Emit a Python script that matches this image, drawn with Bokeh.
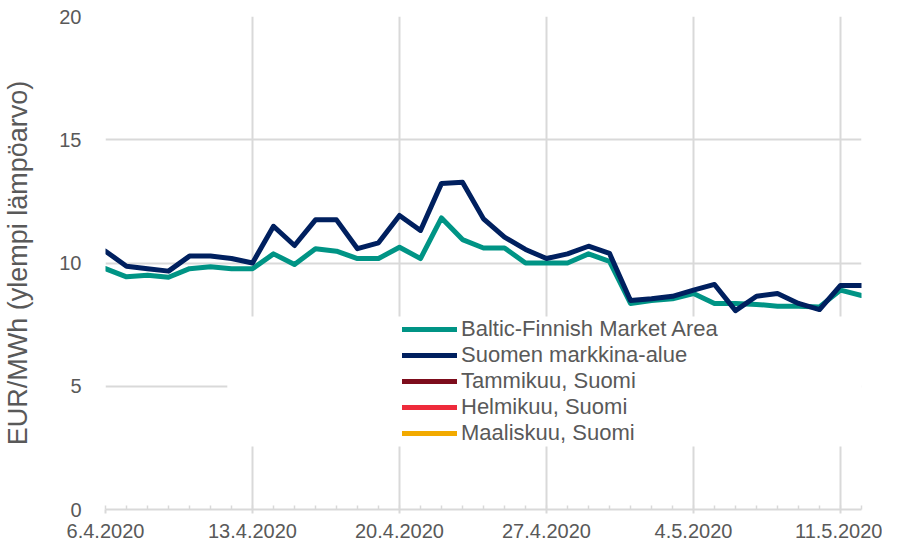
import pandas as pd
from bokeh.plotting import figure
from bokeh.models import Range1d, FixedTicker, Legend, LegendItem, BoxAnnotation
from bokeh.embed import file_html
from bokeh.resources import INLINE

# ---- data ----
dates = pd.date_range("2020-04-06", "2020-05-12", freq="D")
baltic = [9.77, 9.44, 9.50, 9.42, 9.77, 9.85, 9.77, 9.77, 10.37, 9.94, 10.58, 10.48,
          10.18, 10.18, 10.64, 10.18, 11.83, 10.95, 10.61, 10.61, 10.00, 10.00, 10.00,
          10.37, 10.07, 8.36, 8.48, 8.55, 8.76, 8.36, 8.36, 8.32, 8.25, 8.25, 8.22, 8.90, 8.68]
suomi = [10.48, 9.87, 9.77, 9.67, 10.28, 10.28, 10.18, 10.00, 11.49, 10.71, 11.75, 11.75,
         10.58, 10.82, 11.93, 11.32, 13.23, 13.28, 11.79, 11.05, 10.55, 10.18, 10.37,
         10.68, 10.39, 8.48, 8.55, 8.65, 8.90, 9.13, 8.07, 8.65, 8.76, 8.36, 8.11, 9.09, 9.09]
# no values inside the shown period for these series
tammikuu = [None]
helmikuu = [None]
maaliskuu = [None]
series_names = ["Baltic-Finnish Market Area", "Suomen markkina-alue",
                "Tammikuu, Suomi", "Helmikuu, Suomi", "Maaliskuu, Suomi"]
series_colors = ["#009485", "#00205F", "#7D0C1C", "#EE2B3B", "#F2AA00"]
tick_dates = ["2020-04-06", "2020-04-13", "2020-04-20", "2020-04-27", "2020-05-04", "2020-05-11"]
tick_labels = ["6.4.2020", "13.4.2020", "20.4.2020", "27.4.2020", "4.5.2020", "11.5.2020"]
y_ticks = [0, 5, 10, 15, 20]

FONT = "Liberation Sans"
GREY = "#595959"
GRID = "#d9d9d9"

def ms(d):
    return pd.Timestamp(d).value / 1e6

x_ms = [ms(d) for d in dates]
major_ms = [ms(d) for d in tick_dates]

p = figure(width=882, height=546, x_axis_type="datetime",
           output_backend="svg", toolbar_location=None,
           x_range=Range1d(x_ms[0], x_ms[-1]), y_range=Range1d(0, 20),
           min_border_left=97, min_border_right=21, min_border_top=16, min_border_bottom=37)
p.outline_line_color = None
p.background_fill_color = "white"
p.border_fill_color = "white"

# axes
xa = p.xaxis[0]
xa.ticker = FixedTicker(ticks=major_ms, minor_ticks=x_ms)
xa.major_label_overrides = {v: lab for v, lab in zip(major_ms, tick_labels)}
xa.axis_line_color = GRID
xa.axis_line_width = 2
xa.major_tick_line_color = GRID
xa.major_tick_line_width = 2
xa.major_tick_out = 4
xa.major_tick_in = 0
xa.minor_tick_line_color = GRID
xa.minor_tick_line_width = 1.5
xa.minor_tick_in = 4
xa.minor_tick_out = 0
xa.major_label_standoff = 10
xa.major_label_text_font = FONT
xa.major_label_text_font_size = "20px"
xa.major_label_text_color = GREY

ya = p.yaxis[0]
ya.ticker = FixedTicker(ticks=y_ticks)
ya.axis_line_color = None
ya.major_tick_line_color = None
ya.minor_tick_line_color = None
ya.major_label_standoff = 18
ya.major_label_text_font = FONT
ya.major_label_text_font_size = "20px"
ya.major_label_text_color = GREY
ya.axis_label = "EUR/MWh (ylempi lämpöarvo)"
ya.axis_label_text_font = FONT
ya.axis_label_text_font_size = "27px"
ya.axis_label_text_font_style = "normal"
ya.axis_label_text_color = GREY
ya.axis_label_standoff = 23

p.xgrid.ticker = FixedTicker(ticks=major_ms)
p.xgrid.grid_line_color = GRID
p.xgrid.grid_line_width = 2
p.ygrid.ticker = FixedTicker(ticks=y_ticks)
p.ygrid.grid_line_color = GRID
p.ygrid.grid_line_width = 2

# lines
all_series = [baltic, suomi, tammikuu, helmikuu, maaliskuu]
renderers = []
for vals, col in zip(all_series, series_colors):
    xs = x_ms[:len(vals)]
    r = p.line(xs, [float("nan") if v is None else v for v in vals],
               line_color=col, line_width=5, line_join="round", line_cap="round")
    renderers.append(r)

# white legend background panel (hides gridlines behind the legend)
day = 86400000.0
bg = BoxAnnotation(left=x_ms[0] + 5.8 * day, right=x_ms[-1] + day, top=7.83, bottom=2.56,
                   fill_color="white", fill_alpha=1.0, line_alpha=0)
p.add_layout(bg)

legend = Legend(items=[LegendItem(label=n, renderers=[r]) for n, r in zip(series_names, renderers)],
                location=(297, 63), padding=0, margin=0, spacing=-1,
                glyph_width=55, glyph_height=22, label_height=22, label_standoff=4,
                label_text_font=FONT, label_text_font_size="22px", label_text_color=GREY,
                background_fill_alpha=0, border_line_alpha=0)
p.add_layout(legend)

open("out.html", "w").write(file_html(p, INLINE))
